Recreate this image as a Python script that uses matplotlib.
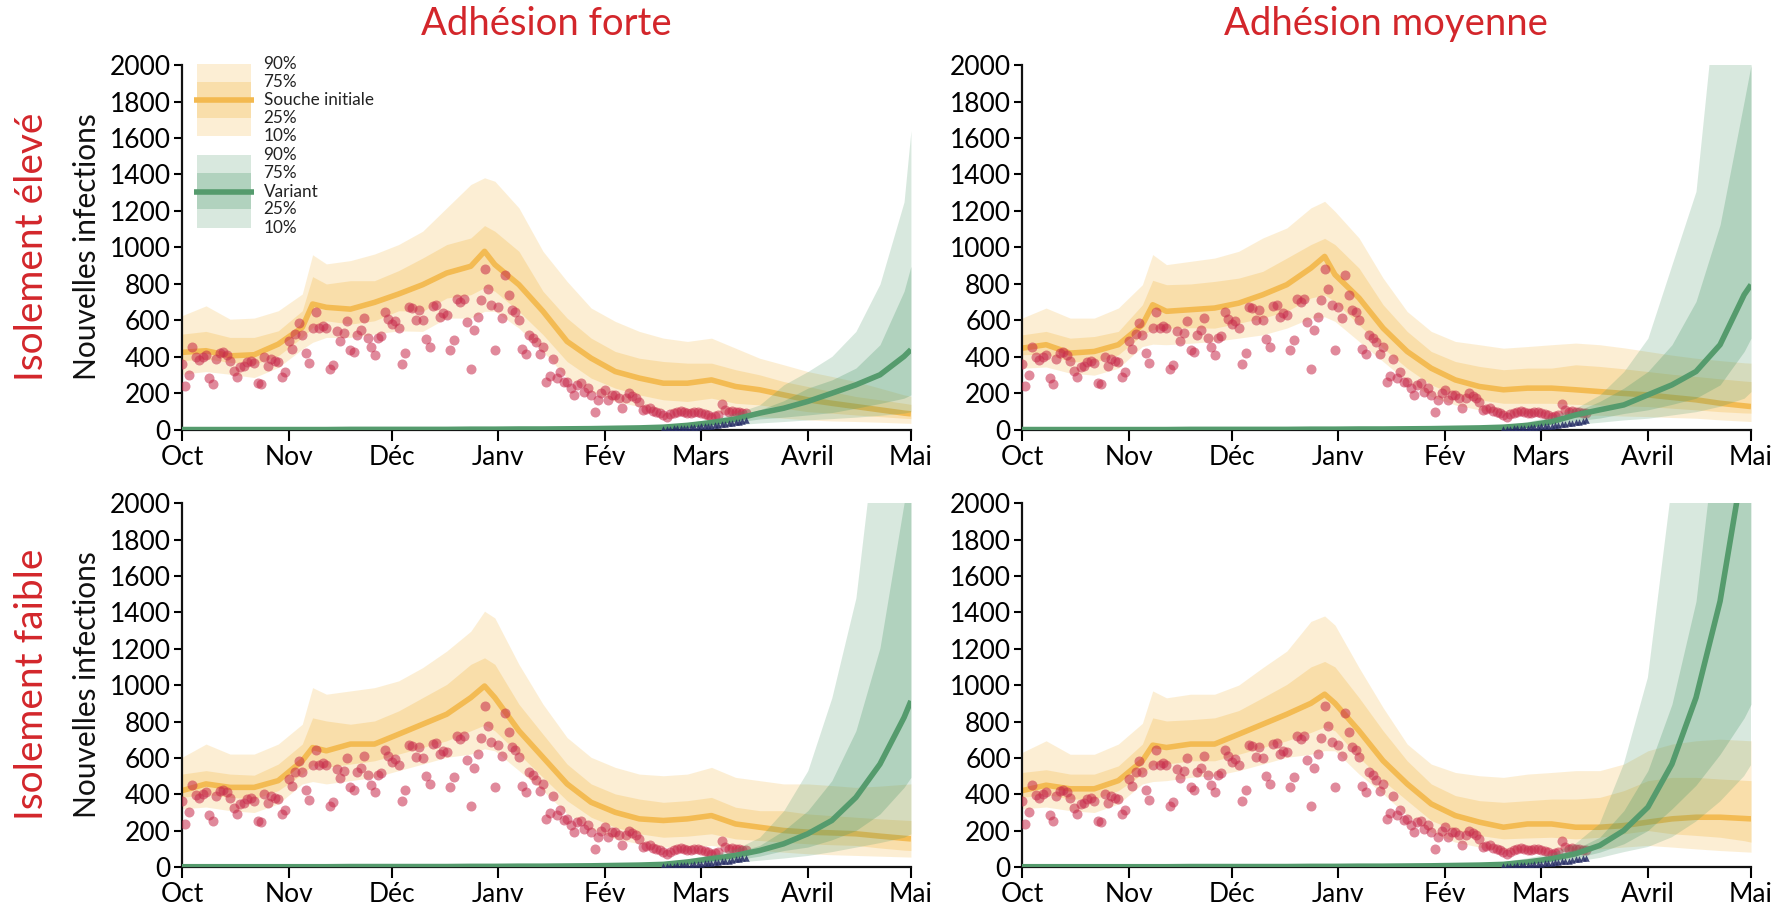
import matplotlib.pyplot as plt
import pandas as pd
from matplotlib.patches import Rectangle

plt.rcParams['font.family'] = ['Lato', 'DejaVu Sans']

# Grille des projections : jours depuis le 1er octobre 2020.
days = [0, 7, 14, 21, 28, 35, 38, 42, 49, 56, 63, 70, 77, 84, 88, 91, 98, 105,
        112, 119, 126, 133, 140, 147, 154, 161, 168, 175, 182, 189, 196, 203,
        210, 212]

# Cas observés (quotidiens, à partir du 1er octobre).
obs_cases = [364, 238, 302, 452, 397, 382, 400, 410, 287, 254,
             388, 420, 425, 410, 380, 324, 291, 345, 351, 375,
             380, 365, 255, 250, 400, 351, 390, 380, 372, 290,
             315, 485, 443, 525, 584, 520, 424, 366, 560, 644,
             560, 570, 560, 335, 355, 540, 490, 530, 598, 440,
             425, 520, 547, 613, 505, 452, 412, 505, 516, 645,
             610, 580, 595, 560, 364, 421, 672, 668, 605, 660,
             600, 498, 457, 678, 682, 620, 640, 630, 439, 494,
             720, 702, 718, 589, 335, 547, 620, 712, 883, 775,
             686, 439, 672, 611, 849, 742, 658, 645, 604, 445,
             415, 520, 505, 481, 417, 457, 265, 298, 388, 287,
             315, 260, 265, 230, 192, 247, 256, 210, 230, 192,
             100, 165, 200, 220, 165, 192, 192, 175, 119, 174,
             201, 185, 174, 155, 110, 115, 119, 105, 100, 92,
             82, 73, 85, 92, 100, 105, 100, 92, 95, 100,
             100, 92, 88, 82, 73, 78, 82, 141, 110, 100,
             105, 100, 100, 92, 95]
# Cas variant observés (à partir du jour 140).
variant_cases = [5, 6, 7, 8, 9, 10, 11, 13, 14, 15, 17, 19, 20, 22, 24, 26,
                 28, 31, 33, 36, 39, 42, 45, 48, 52]

# Souche initiale : q10, q25, médiane, q75, q90 par scénario.
tl_q10 = [305, 320, 305, 287, 342, 443, 480, 507, 507, 525, 543, 540, 613, 613, 650, 650, 558, 430, 284, 210, 156, 128, 110, 100, 100, 82, 73, 64, 55, 49, 46, 42, 37, 36]
tl_q25 = [379, 390, 370, 360, 406, 507, 560, 598, 580, 598, 653, 650, 723, 741, 780, 760, 650, 522, 375, 284, 229, 192, 165, 156, 174, 146, 137, 119, 100, 92, 82, 73, 64, 62]
tl_med = [425, 434, 406, 412, 470, 562, 690, 672, 662, 699, 745, 796, 860, 897, 979, 906, 796, 650, 485, 393, 320, 284, 256, 256, 274, 238, 220, 192, 165, 146, 128, 110, 92, 88]
tl_q75 = [525, 540, 507, 507, 543, 653, 840, 800, 818, 818, 873, 942, 1016, 1052, 1120, 1089, 979, 760, 613, 503, 430, 393, 375, 366, 366, 330, 302, 265, 238, 210, 183, 165, 146, 140]
tl_q90 = [626, 680, 607, 613, 653, 745, 960, 910, 928, 964, 1016, 1089, 1217, 1345, 1382, 1363, 1217, 979, 814, 668, 595, 540, 503, 485, 503, 448, 393, 357, 320, 293, 265, 229, 192, 185]

tr_q10 = [338, 345, 311, 300, 338, 457, 470, 467, 475, 485, 503, 521, 558, 613, 620, 595, 485, 375, 265, 183, 137, 110, 92, 92, 92, 82, 80, 76, 73, 68, 64, 55, 48, 46]
tr_q25 = [412, 415, 375, 370, 412, 520, 550, 558, 560, 558, 585, 613, 650, 723, 740, 704, 576, 448, 338, 247, 192, 165, 146, 146, 146, 140, 137, 132, 128, 119, 110, 100, 93, 92]
tr_med = [448, 467, 421, 430, 467, 576, 686, 650, 659, 668, 695, 741, 796, 887, 951, 851, 723, 558, 430, 338, 274, 238, 220, 229, 229, 220, 210, 200, 192, 178, 165, 146, 132, 128]
tr_q75 = [521, 540, 503, 512, 540, 686, 820, 796, 800, 814, 832, 869, 942, 1016, 1050, 1016, 887, 686, 540, 430, 375, 348, 330, 339, 339, 357, 348, 335, 320, 305, 293, 280, 268, 265]
tr_q90 = [613, 668, 613, 613, 668, 796, 961, 906, 924, 942, 979, 1052, 1107, 1217, 1253, 1198, 1052, 832, 649, 540, 485, 467, 448, 457, 467, 476, 467, 450, 430, 410, 393, 380, 368, 366]

bl_q10 = [320, 330, 310, 300, 347, 457, 470, 457, 475, 493, 530, 566, 603, 621, 650, 639, 530, 420, 292, 210, 155, 128, 110, 110, 119, 100, 91, 82, 73, 68, 64, 60, 56, 55]
bl_q25 = [383, 400, 383, 375, 420, 511, 560, 548, 566, 584, 621, 657, 694, 749, 780, 749, 621, 493, 365, 274, 219, 183, 164, 170, 183, 155, 146, 137, 128, 123, 119, 105, 93, 91]
bl_med = [420, 457, 438, 438, 475, 584, 657, 639, 676, 676, 730, 785, 840, 931, 995, 931, 749, 603, 457, 356, 301, 265, 256, 265, 283, 237, 219, 201, 192, 188, 183, 170, 158, 155]
bl_q75 = [511, 530, 511, 505, 566, 676, 820, 803, 785, 803, 858, 931, 1004, 1114, 1150, 1114, 895, 730, 566, 457, 402, 374, 356, 365, 383, 329, 310, 310, 292, 283, 274, 265, 258, 256]
bl_q90 = [603, 676, 621, 621, 676, 785, 986, 950, 968, 986, 1023, 1096, 1187, 1296, 1406, 1369, 1114, 895, 712, 603, 548, 511, 502, 511, 548, 493, 475, 457, 457, 448, 438, 445, 455, 457]

br_q10 = [320, 330, 310, 300, 347, 457, 470, 475, 493, 502, 530, 566, 603, 620, 640, 639, 511, 402, 283, 192, 137, 110, 91, 95, 100, 91, 100, 110, 119, 110, 100, 91, 84, 82]
br_q25 = [383, 400, 374, 374, 420, 511, 560, 566, 584, 584, 620, 657, 694, 740, 770, 749, 603, 475, 365, 256, 201, 174, 155, 160, 164, 155, 164, 183, 201, 183, 174, 164, 145, 137]
br_med = [420, 450, 430, 430, 475, 584, 670, 657, 676, 676, 730, 785, 840, 900, 950, 900, 749, 584, 457, 347, 283, 247, 219, 237, 237, 219, 219, 228, 247, 265, 274, 274, 267, 265]
br_q75 = [520, 535, 511, 511, 556, 676, 820, 803, 810, 820, 860, 931, 1004, 1100, 1130, 1100, 931, 749, 584, 457, 393, 365, 356, 365, 374, 374, 383, 420, 475, 493, 493, 484, 477, 475]
br_q90 = [630, 694, 620, 620, 676, 790, 968, 930, 950, 950, 1000, 1096, 1187, 1350, 1380, 1330, 1096, 876, 676, 566, 520, 502, 493, 511, 520, 530, 530, 566, 639, 676, 694, 703, 696, 694]

# Variant : début commun (jours 0 à 133) puis fin propre à chaque scénario.
var_early_q10 = [1, 1, 1, 1, 1, 1, 1, 1, 1, 1, 1, 1, 1, 2, 2, 2, 2, 2, 2, 3, 4, 5]
var_early_q25 = [1, 1, 1, 1, 1, 1, 1, 2, 2, 2, 2, 2, 2, 3, 3, 3, 3, 4, 4, 5, 6, 8]
var_early_med = [2, 2, 2, 2, 2, 2, 2, 2, 3, 3, 3, 3, 3, 4, 4, 4, 5, 5, 6, 7, 9, 11]
var_early_q75 = [2, 2, 2, 2, 2, 2, 2, 3, 3, 4, 4, 4, 4, 5, 5, 5, 6, 7, 8, 9, 11, 14]
var_early_q90 = [3, 3, 3, 3, 3, 3, 3, 4, 4, 5, 5, 5, 6, 6, 7, 7, 8, 9, 10, 12, 15, 19]

tl_var_q10 = var_early_q10 + [7, 12, 18, 28, 38, 46, 55, 62, 70, 80, 92, 100]
tl_var_q25 = var_early_q25 + [11, 18, 28, 42, 60, 70, 82, 95, 119, 145, 174, 192]
tl_var_med = var_early_med + [15, 25, 40, 60, 92, 119, 156, 201, 247, 302, 403, 440]
tl_var_q75 = var_early_q75 + [20, 32, 50, 75, 110, 160, 229, 274, 339, 467, 760, 897]
tl_var_q90 = var_early_q90 + [26, 40, 60, 92, 137, 247, 320, 403, 540, 800, 1250, 1640]

tr_var_q10 = var_early_q10 + [7, 12, 20, 30, 42, 55, 64, 82, 100, 130, 174, 210]
tr_var_q25 = var_early_q25 + [11, 18, 30, 50, 65, 90, 110, 140, 174, 247, 430, 503]
tr_var_med = var_early_med + [15, 25, 45, 82, 110, 137, 192, 247, 320, 467, 741, 796]
tr_var_q75 = var_early_q75 + [20, 35, 58, 100, 156, 229, 320, 467, 704, 1125, 1802, 2000]
tr_var_q90 = var_early_q90 + [26, 45, 75, 119, 192, 320, 503, 906, 1308, 2600, 3500, 3800]

bl_var_q10 = var_early_q10 + [7, 12, 18, 26, 38, 50, 64, 85, 110, 135, 164, 183]
bl_var_q25 = var_early_q25 + [11, 18, 28, 40, 60, 91, 110, 150, 201, 292, 438, 493]
bl_var_med = var_early_med + [15, 28, 46, 64, 91, 128, 183, 256, 383, 566, 822, 913]
bl_var_q75 = var_early_q75 + [20, 35, 55, 80, 119, 201, 310, 475, 749, 1205, 2000, 2100]
bl_var_q90 = var_early_q90 + [26, 45, 70, 100, 164, 310, 530, 931, 1479, 2600, 3500, 3800]

br_var_q10 = var_early_q10 + [7, 12, 20, 30, 50, 82, 110, 164, 250, 360, 500, 560]
br_var_q25 = var_early_q25 + [11, 18, 30, 50, 82, 128, 201, 320, 450, 620, 820, 895]
br_var_med = var_early_med + [15, 28, 46, 73, 119, 201, 329, 566, 931, 1461, 2250, 2450]
br_var_q75 = var_early_q75 + [20, 38, 60, 100, 164, 310, 530, 895, 1461, 2600, 3500, 3800]
br_var_q90 = var_early_q90 + [28, 48, 73, 128, 237, 566, 1041, 2100, 3000, 4000, 5000, 5500]

month_labels = ["Oct", "Nov", "Déc", "Janv", "Fév", "Mars", "Avril", "Mai"]
col_titles = ["Adhésion forte", "Adhésion moyenne"]
row_titles = ["Isolement élevé", "Isolement faible"]

ORANGE = "#F4B63F"
ORANGE_LINE = "#F3B94F"
GREEN = "#4E9A6C"
GREEN_LINE = "#559B6D"
RED_DOT = "#C7294A"
NAVY = "#272D66"
TITLE_RED = "#D3262B"

month_starts = pd.date_range("2020-10-01", "2021-05-01", freq="MS")
month_ticks = [(d - month_starts[0]).days for d in month_starts]


def plot_panel(ax, orig, var):
    q10, q25, med, q75, q90 = orig
    ax.fill_between(days, q10, q90, color=ORANGE, alpha=0.22, lw=0)
    ax.fill_between(days, q25, q75, color=ORANGE, alpha=0.28, lw=0)
    ax.plot(days, med, color=ORANGE_LINE, lw=4, alpha=0.95,
            solid_capstyle="butt")

    ax.scatter(range(len(obs_cases)), obs_cases, s=52, color=RED_DOT,
               alpha=0.55, lw=0, zorder=3)

    v10, v25, vmed, v75, v90 = var
    ax.fill_between(days, v10, v90, color=GREEN, alpha=0.22, lw=0, zorder=4)
    ax.fill_between(days, v25, v75, color=GREEN, alpha=0.28, lw=0, zorder=4)
    ax.plot(days, vmed, color=GREEN_LINE, lw=4, zorder=5,
            solid_capstyle="butt")
    ax.scatter(range(140, 140 + len(variant_cases)), variant_cases, s=22,
               marker="^", color=NAVY, alpha=0.85, lw=0, zorder=6)

    ax.set_xlim(0, 212)
    ax.set_ylim(0, 2000)
    ax.set_yticks(range(0, 2001, 200))
    ax.set_xticks(month_ticks)
    ax.set_xticklabels(month_labels)
    for side in ["top", "right"]:
        ax.spines[side].set_visible(False)
    for side in ["left", "bottom"]:
        ax.spines[side].set_linewidth(1.6)
        ax.spines[side].set_color("#111111")
    ax.tick_params(axis="y", length=6, width=1.5, pad=2, labelsize=19)
    ax.tick_params(axis="x", length=8, width=1.5, pad=3, labelsize=19)


def draw_legend(ax):
    tr = ax.transAxes
    blocks = [(1.003, 0.805, 0.953, 0.855, 0.904, ORANGE, ORANGE_LINE,
               ["90%", "75%", "Souche initiale", "25%", "10%"]),
              (0.753, 0.553, 0.704, 0.605, 0.652, GREEN, GREEN_LINE,
               ["90%", "75%", "Variant", "25%", "10%"])]
    for top, bot, itop, ibot, mid, col, lcol, labels in blocks:
        ax.add_patch(Rectangle((0.021, bot), 0.074, top - bot, transform=tr,
                               color=col, alpha=0.22, lw=0, clip_on=False))
        ax.add_patch(Rectangle((0.021, ibot), 0.074, itop - ibot,
                               transform=tr, color=col, alpha=0.28, lw=0,
                               clip_on=False))
        ax.plot([0.016, 0.099], [mid, mid], transform=tr, color=lcol, lw=4,
                clip_on=False, solid_capstyle="butt")
        ys = [top, itop, mid, ibot, bot]
        for y, lab in zip(ys, labels):
            ax.text(0.112, y, lab, transform=tr, fontsize=12.3,
                    va="center", ha="left", color="#222222")


fig = plt.figure(figsize=(17.75, 9.07), dpi=100)
ax_tl = fig.add_axes([0.1025, 0.526, 0.4107, 0.4023])
ax_tr = fig.add_axes([0.5758, 0.526, 0.4107, 0.4023])
ax_bl = fig.add_axes([0.1025, 0.044, 0.4107, 0.4013])
ax_br = fig.add_axes([0.5758, 0.044, 0.4107, 0.4013])

plot_panel(ax_tl, (tl_q10, tl_q25, tl_med, tl_q75, tl_q90),
           (tl_var_q10, tl_var_q25, tl_var_med, tl_var_q75, tl_var_q90))
plot_panel(ax_tr, (tr_q10, tr_q25, tr_med, tr_q75, tr_q90),
           (tr_var_q10, tr_var_q25, tr_var_med, tr_var_q75, tr_var_q90))
plot_panel(ax_bl, (bl_q10, bl_q25, bl_med, bl_q75, bl_q90),
           (bl_var_q10, bl_var_q25, bl_var_med, bl_var_q75, bl_var_q90))
plot_panel(ax_br, (br_q10, br_q25, br_med, br_q75, br_q90),
           (br_var_q10, br_var_q25, br_var_med, br_var_q75, br_var_q90))
draw_legend(ax_tl)

# Titres de colonnes / lignes et libellés d'axe.
fig.text(0.308, 0.973, col_titles[0], color=TITLE_RED, fontsize=27.5,
         ha="center", va="center")
fig.text(0.781, 0.973, col_titles[1], color=TITLE_RED, fontsize=27.5,
         ha="center", va="center")
fig.text(0.018, 0.728, row_titles[0], color=TITLE_RED, fontsize=28,
         rotation=90, ha="center", va="center")
fig.text(0.018, 0.245, row_titles[1], color=TITLE_RED, fontsize=28,
         rotation=90, ha="center", va="center")
fig.text(0.049, 0.728, "Nouvelles infections", fontsize=21.5, rotation=90,
         ha="center", va="center", color="#111111")
fig.text(0.049, 0.245, "Nouvelles infections", fontsize=21.5, rotation=90,
         ha="center", va="center", color="#111111")

plt.savefig("out.png", dpi=100)
